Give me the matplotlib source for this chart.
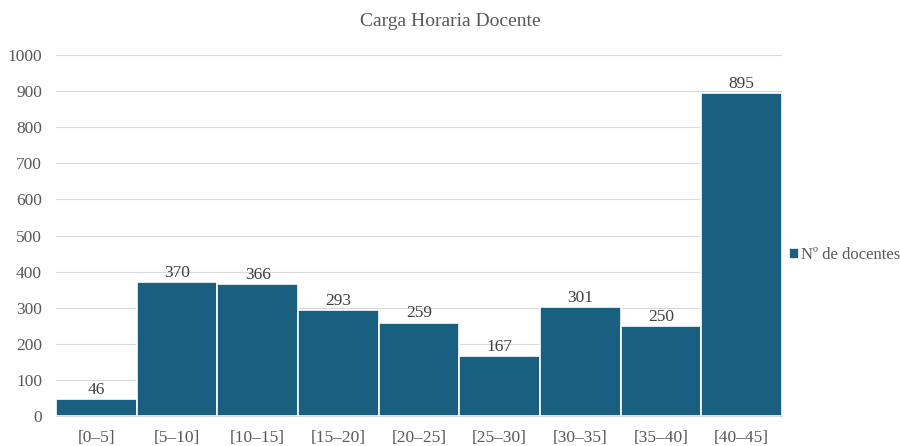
import matplotlib
matplotlib.use("Agg")
import matplotlib.pyplot as plt

categories = ["[0–5]", "[5–10]", "[10–15]", "[15–20]", "[20–25]", "[25–30]", "[30–35]", "[35–40]", "[40–45]"]
values = [46, 370, 366, 293, 259, 167, 301, 250, 895]
series_name = "Nº de docentes"
title = "Carga Horaria Docente"
yticks = [0, 100, 200, 300, 400, 500, 600, 700, 800, 900, 1000]

plt.rcParams['font.family'] = ['Liberation Serif', 'DejaVu Serif']

fig = plt.figure(figsize=(9, 4.46), dpi=100)
ax = fig.add_axes([56/900, 30/446, (782-56)/900, (416-55)/446])

color = '#185f80'
x = list(range(len(categories)))
bars = ax.bar(x, values, width=1.0, color=color, edgecolor='white', linewidth=1.2, label=series_name, zorder=3)
for xi, v in zip(x, values):
    ax.text(xi, v + 3, str(v), ha='center', va='bottom', fontsize=12.5, color='#404040', zorder=4)

ax.set_xlim(-0.5, len(categories) - 0.5)
ax.set_ylim(0, 1000)
ax.set_yticks(yticks)
ax.set_xticks(x)
ax.set_xticklabels(categories)
ax.tick_params(axis='both', length=0, labelsize=12.5, labelcolor='#595959')
ax.tick_params(axis='y', pad=10)
ax.tick_params(axis='x', pad=10)
ax.yaxis.grid(True, color='#d9d9d9', linewidth=0.8, zorder=0)
for s in ['top', 'right', 'left']:
    ax.spines[s].set_visible(False)
ax.spines['bottom'].set_color('#d9d9d9')

fig.text(0.5, 1 - 21/446, title, ha='center', va='center', fontsize=14, color='#595959')

leg = ax.legend(loc='center left', bbox_to_anchor=((789 - 56) / 726, 0.445), frameon=False, fontsize=12,
                handlelength=0.6, handleheight=0.6, handletextpad=0.15, borderaxespad=0, borderpad=0)
for t in leg.get_texts():
    t.set_color('#595959')

fig.savefig("out.png", dpi=100)
